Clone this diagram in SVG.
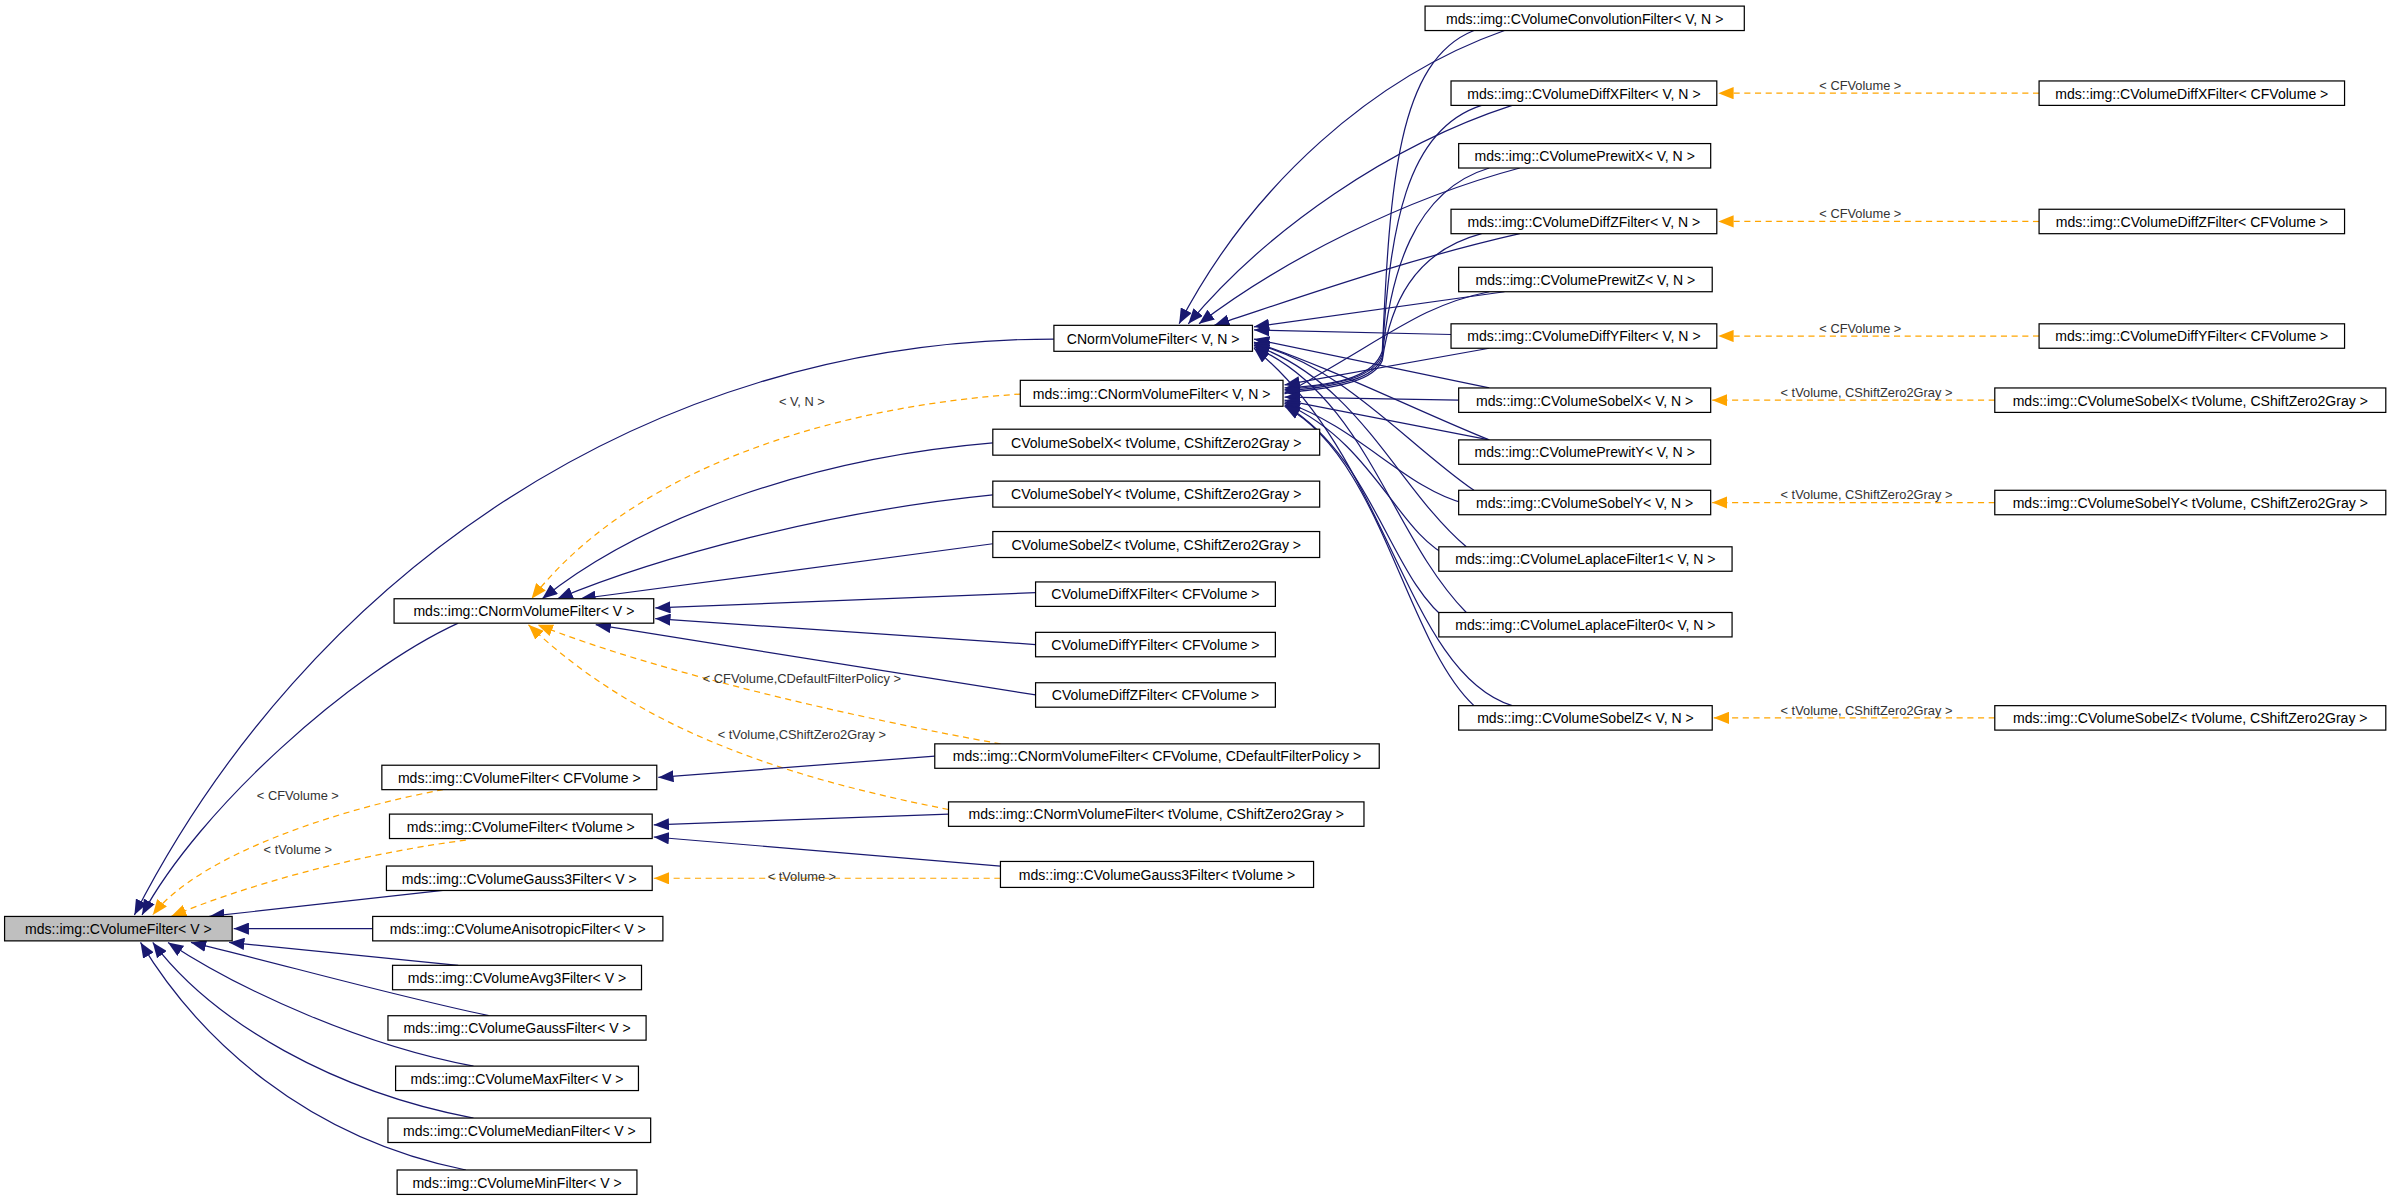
<svg xmlns="http://www.w3.org/2000/svg" width="2395" height="1201" viewBox="0 0 2395 1201">
<style>
.n rect{fill:#fff;stroke:#000;stroke-width:0.8}
.n text{font-family:"Liberation Sans",Arial,sans-serif;font-size:9.2px;text-anchor:middle;fill:#000}
.e path{fill:none;stroke:#191970;stroke-width:0.8;marker-end:url(#ab)}
.e path.d{stroke:#ffa500;stroke-dasharray:4,3;marker-end:url(#ao)}
.l{font-family:"Liberation Sans",Arial,sans-serif;font-size:8.4px;text-anchor:middle;fill:#333}
</style>
<defs>
<marker id="ab" markerUnits="userSpaceOnUse" viewBox="0 0 10 8" refX="10" refY="4" markerWidth="10" markerHeight="8" orient="auto"><path d="M0,0L10,4L0,8z" fill="#191970"/></marker>
<marker id="ao" markerUnits="userSpaceOnUse" viewBox="0 0 10 8" refX="10" refY="4" markerWidth="10" markerHeight="8" orient="auto"><path d="M0,0L10,4L0,8z" fill="#ffa500"/></marker>
</defs>
<rect width="2395" height="1201" fill="#fff"/>
<g transform="scale(1.5274)">
<g id="edges" class="e">
<path d="M690,222 C420,222 200,380 88,599"/>
<path d="M300,408 C230,440 130,530 93,599"/>
<path class="d" d="M290,517 C220,530 130,560 100,599"/>
<path class="d" d="M305,550 C230,560 160,580 112,600"/>
<path d="M290,583 L137,600"/>
<path d="M244,608 L153,608"/>
<path d="M300,632 L150,617"/>
<path d="M320,665 C250,650 180,630 125,617"/>
<path d="M310,698 C240,685 160,650 110,617"/>
<path d="M310,732 C220,715 140,670 100,617"/>
<path d="M305,766 C200,745 130,680 92,617"/>
<path class="d" d="M668,258 C560,265 420,300 348,392"/>
<path d="M650,290 C530,300 420,340 355,392"/>
<path d="M650,324 C540,335 430,365 365,392"/>
<path d="M650,356 L380,392"/>
<path d="M678,388 L429,398"/>
<path d="M678,422 L429,405"/>
<path d="M678,455 L390,409"/>
<path class="d" d="M655,487 C560,470 430,440 352,409"/>
<path class="d" d="M621,530 C520,510 420,480 346,409"/>
<path d="M612,495 L431,509"/>
<path d="M621,533 L428,540"/>
<path d="M655,567 L428,548"/>
<path class="d" d="M655,575 L428,575"/>
<path d="M985,20 C900,50 820,120 772,212"/>
<path d="M990,69 C910,95 830,150 778,212"/>
<path d="M995,110 C920,130 840,170 785,212"/>
<path d="M995,153 C920,170 850,195 795,213"/>
<path d="M985,191 L821,214"/>
<path d="M950,219 L821,216"/>
<path d="M975,254 L821,222"/>
<path d="M975,288 C930,270 870,240 821,224"/>
<path d="M965,321 C920,290 880,240 821,225"/>
<path d="M960,358 C915,320 890,250 821,226"/>
<path d="M960,401 C910,350 895,260 821,227"/>
<path d="M990,462 C920,440 910,300 821,228"/>
<path d="M965,20 C915,40 910,120 905,230 C900,245 880,252 841,254"/>
<path d="M970,69 C920,85 910,150 905,232 C900,246 880,252 841,255"/>
<path d="M975,110 C925,125 910,180 905,234 C900,247 880,253 841,256"/>
<path d="M970,153 C925,165 910,200 905,236 C900,248 880,254 841,257"/>
<path d="M975,191 C930,200 910,220 841,258"/>
<path d="M975,228 L841,252"/>
<path d="M955,262 L841,260"/>
<path d="M975,288 L841,262"/>
<path d="M960,330 C920,320 890,280 841,263"/>
<path d="M950,365 C915,350 900,290 841,264"/>
<path d="M950,408 C910,380 900,300 841,265"/>
<path d="M965,462 C920,420 905,300 841,266"/>
<path class="d" d="M1335,61 L1125,61"/>
<path class="d" d="M1335,145 L1125,145"/>
<path class="d" d="M1335,220 L1125,220"/>
<path class="d" d="M1306,262 L1121,262"/>
<path class="d" d="M1306,329 L1121,329"/>
<path class="d" d="M1306,470 L1122,470"/>
</g>
<g id="labels">
<text class="l" x="195" y="524">&lt; CFVolume &gt;</text>
<text class="l" x="195" y="559">&lt; tVolume &gt;</text>
<text class="l" x="525" y="266">&lt; V, N &gt;</text>
<text class="l" x="525" y="447">&lt; CFVolume,CDefaultFilterPolicy &gt;</text>
<text class="l" x="525" y="484">&lt; tVolume,CShiftZero2Gray &gt;</text>
<text class="l" x="525" y="577">&lt; tVolume &gt;</text>
<text class="l" x="1218" y="59">&lt; CFVolume &gt;</text>
<text class="l" x="1218" y="143">&lt; CFVolume &gt;</text>
<text class="l" x="1218" y="218">&lt; CFVolume &gt;</text>
<text class="l" x="1222" y="260">&lt; tVolume, CShiftZero2Gray &gt;</text>
<text class="l" x="1222" y="327">&lt; tVolume, CShiftZero2Gray &gt;</text>
<text class="l" x="1222" y="468">&lt; tVolume, CShiftZero2Gray &gt;</text>
</g>
<g id="nA" class="n"><rect x="3" y="600" width="149" height="16" style="fill:#bfbfbf"/><text x="77.5" y="611.5">mds::img::CVolumeFilter&lt; V &gt;</text></g>
<g id="nB" class="n"><rect x="258" y="392" width="170" height="16"/><text x="343" y="403.5">mds::img::CNormVolumeFilter&lt; V &gt;</text></g>
<g id="nC" class="n"><rect x="250" y="501" width="180" height="16"/><text x="340" y="512.5">mds::img::CVolumeFilter&lt; CFVolume &gt;</text></g>
<g id="nD" class="n"><rect x="255" y="533" width="172" height="16"/><text x="341" y="544.5">mds::img::CVolumeFilter&lt; tVolume &gt;</text></g>
<g id="nE" class="n"><rect x="253" y="567" width="174" height="16"/><text x="340" y="578.5">mds::img::CVolumeGauss3Filter&lt; V &gt;</text></g>
<g id="nF" class="n"><rect x="244" y="600" width="190" height="16"/><text x="339" y="611.5">mds::img::CVolumeAnisotropicFilter&lt; V &gt;</text></g>
<g id="nG" class="n"><rect x="257" y="632" width="163" height="16"/><text x="338.5" y="643.5">mds::img::CVolumeAvg3Filter&lt; V &gt;</text></g>
<g id="nH" class="n"><rect x="254" y="665" width="169" height="16"/><text x="338.5" y="676.5">mds::img::CVolumeGaussFilter&lt; V &gt;</text></g>
<g id="nI" class="n"><rect x="259" y="698" width="159" height="16"/><text x="338.5" y="709.5">mds::img::CVolumeMaxFilter&lt; V &gt;</text></g>
<g id="nJ" class="n"><rect x="254" y="732" width="172" height="16"/><text x="340" y="743.5">mds::img::CVolumeMedianFilter&lt; V &gt;</text></g>
<g id="nK" class="n"><rect x="260" y="766" width="157" height="16"/><text x="338.5" y="777.5">mds::img::CVolumeMinFilter&lt; V &gt;</text></g>
<g id="nL" class="n"><rect x="690" y="213" width="130" height="17"/><text x="755" y="225">CNormVolumeFilter&lt; V, N &gt;</text></g>
<g id="nM" class="n"><rect x="668" y="249" width="172" height="17"/><text x="754" y="261">mds::img::CNormVolumeFilter&lt; V, N &gt;</text></g>
<g id="nN" class="n"><rect x="650" y="281" width="214" height="17"/><text x="757" y="293">CVolumeSobelX&lt; tVolume, CShiftZero2Gray &gt;</text></g>
<g id="nO" class="n"><rect x="650" y="315" width="214" height="17"/><text x="757" y="327">CVolumeSobelY&lt; tVolume, CShiftZero2Gray &gt;</text></g>
<g id="nP" class="n"><rect x="650" y="348" width="214" height="17"/><text x="757" y="360">CVolumeSobelZ&lt; tVolume, CShiftZero2Gray &gt;</text></g>
<g id="nQ" class="n"><rect x="678" y="381" width="157" height="16"/><text x="756.5" y="392.5">CVolumeDiffXFilter&lt; CFVolume &gt;</text></g>
<g id="nR" class="n"><rect x="678" y="414" width="157" height="16"/><text x="756.5" y="425.5">CVolumeDiffYFilter&lt; CFVolume &gt;</text></g>
<g id="nS" class="n"><rect x="678" y="447" width="157" height="16"/><text x="756.5" y="458.5">CVolumeDiffZFilter&lt; CFVolume &gt;</text></g>
<g id="nT" class="n"><rect x="612" y="487" width="291" height="16"/><text x="757.5" y="498.5">mds::img::CNormVolumeFilter&lt; CFVolume, CDefaultFilterPolicy &gt;</text></g>
<g id="nU" class="n"><rect x="621" y="525" width="272" height="16"/><text x="757" y="536.5">mds::img::CNormVolumeFilter&lt; tVolume, CShiftZero2Gray &gt;</text></g>
<g id="nV" class="n"><rect x="655" y="564" width="205" height="17"/><text x="757.5" y="576">mds::img::CVolumeGauss3Filter&lt; tVolume &gt;</text></g>
<g id="n1" class="n"><rect x="933" y="4" width="209" height="16"/><text x="1037.5" y="15.5">mds::img::CVolumeConvolutionFilter&lt; V, N &gt;</text></g>
<g id="n2" class="n"><rect x="950" y="53" width="174" height="16"/><text x="1037" y="64.5">mds::img::CVolumeDiffXFilter&lt; V, N &gt;</text></g>
<g id="n3" class="n"><rect x="955" y="94" width="165" height="16"/><text x="1037.5" y="105.5">mds::img::CVolumePrewitX&lt; V, N &gt;</text></g>
<g id="n4" class="n"><rect x="950" y="137" width="174" height="16"/><text x="1037" y="148.5">mds::img::CVolumeDiffZFilter&lt; V, N &gt;</text></g>
<g id="n5" class="n"><rect x="955" y="175" width="166" height="16"/><text x="1038" y="186.5">mds::img::CVolumePrewitZ&lt; V, N &gt;</text></g>
<g id="n6" class="n"><rect x="950" y="212" width="174" height="16"/><text x="1037" y="223.5">mds::img::CVolumeDiffYFilter&lt; V, N &gt;</text></g>
<g id="n7" class="n"><rect x="955" y="254" width="165" height="16"/><text x="1037.5" y="265.5">mds::img::CVolumeSobelX&lt; V, N &gt;</text></g>
<g id="n8" class="n"><rect x="955" y="288" width="165" height="16"/><text x="1037.5" y="299.5">mds::img::CVolumePrewitY&lt; V, N &gt;</text></g>
<g id="n9" class="n"><rect x="955" y="321" width="165" height="16"/><text x="1037.5" y="332.5">mds::img::CVolumeSobelY&lt; V, N &gt;</text></g>
<g id="n10" class="n"><rect x="942" y="358" width="192" height="16"/><text x="1038" y="369.5">mds::img::CVolumeLaplaceFilter1&lt; V, N &gt;</text></g>
<g id="n11" class="n"><rect x="942" y="401" width="192" height="16"/><text x="1038" y="412.5">mds::img::CVolumeLaplaceFilter0&lt; V, N &gt;</text></g>
<g id="n12" class="n"><rect x="955" y="462" width="166" height="16"/><text x="1038" y="473.5">mds::img::CVolumeSobelZ&lt; V, N &gt;</text></g>
<g id="r1" class="n"><rect x="1335" y="53" width="200" height="16"/><text x="1435" y="64.5">mds::img::CVolumeDiffXFilter&lt; CFVolume &gt;</text></g>
<g id="r2" class="n"><rect x="1335" y="137" width="200" height="16"/><text x="1435" y="148.5">mds::img::CVolumeDiffZFilter&lt; CFVolume &gt;</text></g>
<g id="r3" class="n"><rect x="1335" y="212" width="200" height="16"/><text x="1435" y="223.5">mds::img::CVolumeDiffYFilter&lt; CFVolume &gt;</text></g>
<g id="r4" class="n"><rect x="1306" y="254" width="256" height="16"/><text x="1434" y="265.5">mds::img::CVolumeSobelX&lt; tVolume, CShiftZero2Gray &gt;</text></g>
<g id="r5" class="n"><rect x="1306" y="321" width="256" height="16"/><text x="1434" y="332.5">mds::img::CVolumeSobelY&lt; tVolume, CShiftZero2Gray &gt;</text></g>
<g id="r6" class="n"><rect x="1306" y="462" width="256" height="16"/><text x="1434" y="473.5">mds::img::CVolumeSobelZ&lt; tVolume, CShiftZero2Gray &gt;</text></g>
</g>
</svg>
